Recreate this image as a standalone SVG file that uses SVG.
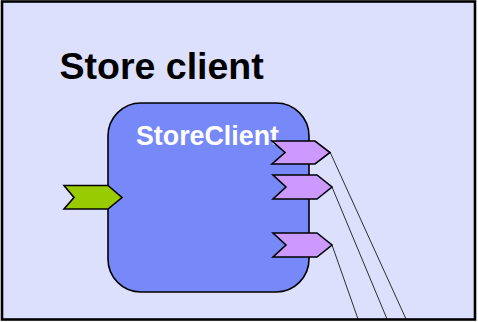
<svg xmlns="http://www.w3.org/2000/svg" width="478" height="322" viewBox="0 0 478 322">
<style>
.port{stroke:#000;stroke-width:1.6;stroke-linejoin:miter}
.in{fill:#99CC00}
.out{fill:#CC99FF}
.conn{stroke:#000;stroke-width:0.8;fill:none}
text{font-family:"Liberation Sans",Arial,sans-serif;font-weight:bold}
</style>
<g id="frame">
<rect x="2" y="1.5" width="473" height="318" fill="#DCE0FC" stroke="#000" stroke-width="2.6"/>
<text x="59.5" y="79" font-size="37.5" fill="#000">Store client</text>
</g>
<g id="StoreClient">
<rect x="108" y="103" width="201" height="189" rx="33" ry="33" fill="#7788F8" stroke="#000" stroke-width="1.6"/>
<text x="136" y="145" font-size="26.8" fill="#fff">StoreClient</text>
</g>
<g id="connectors">
<line class="conn" x1="330" y1="152" x2="406" y2="319"/>
<line class="conn" x1="332" y1="187" x2="387" y2="319"/>
<line class="conn" x1="332" y1="245" x2="358" y2="319"/>
</g>
<g id="port-in">
<polygon class="port in" points="64,185.5 108,185.5 122,197.5 108,209 64,209 74,197.5"/>
</g>
<g id="port-out1">
<polygon class="port out" points="272,141 315,141 330,152.5 315,164 272,164 285,152.5"/>
</g>
<g id="port-out2">
<polygon class="port out" points="273,175 317,175 332,187 317,199 273,199 286,187"/>
</g>
<g id="port-out3">
<polygon class="port out" points="273,233 317,233 332,245 317,257 273,257 286,245"/>
</g>
</svg>
